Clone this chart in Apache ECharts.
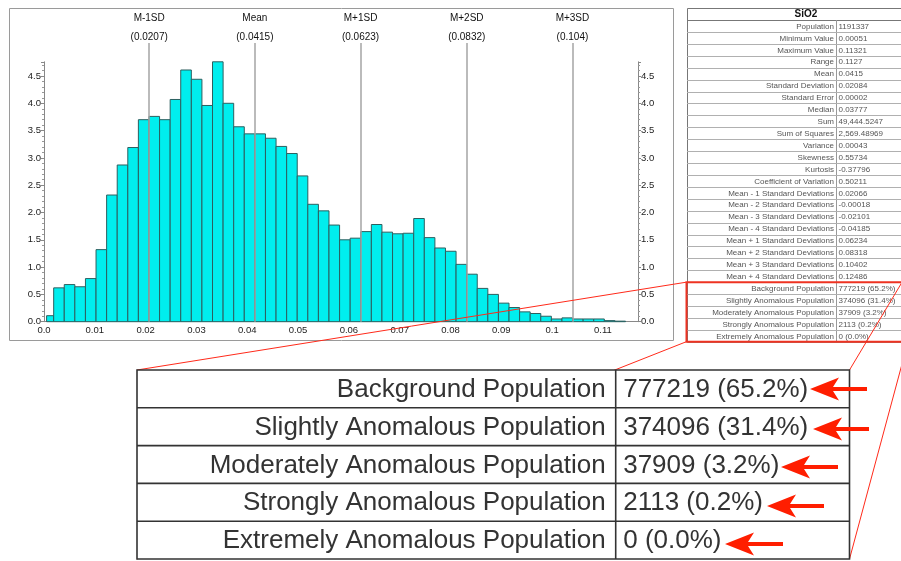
<!DOCTYPE html>
<html><head><meta charset="utf-8">
<script src="https://cdn.jsdelivr.net/npm/echarts@6/dist/echarts.min.js"></script>
<style>html,body{margin:0;padding:0;background:#fff}#c{width:901px;height:561px}</style>
</head><body><div id="c"></div>
<script>
// ---------- data ----------
const binHeights = [0.11,0.62,0.68,0.64,0.79,1.32,2.32,2.87,3.19,3.70,
  3.76,3.70,4.07,4.61,4.44,3.96,4.76,4.00,3.57,3.44,
  3.44,3.36,3.21,3.08,2.67,2.15,2.03,1.77,1.50,1.53,
  1.65,1.78,1.64,1.61,1.62,1.89,1.54,1.35,1.29,1.05,
  0.87,0.61,0.50,0.34,0.26,0.18,0.15,0.10,0.05,0.07,
  0.05,0.05,0.05,0.02,0.01];
const dataMin = 0.00051;
const binStart = -0.00018;   // Mean - 2 Standard Deviations
const binWidth = 0.002084;   // Standard Deviation / 10
const sdNames = ['M-1SD','Mean','M+1SD','M+2SD','M+3SD'];
const sdValues = [0.0207,0.0415,0.0623,0.0832,0.104];
const tableTitle = 'SiO2';
const statLabels = ['Population','Minimum Value','Maximum Value','Range','Mean','Standard Deviation',
  'Standard Error','Median','Sum','Sum of Squares','Variance','Skewness','Kurtosis',
  'Coefficient of Variation','Mean - 1 Standard Deviations','Mean - 2 Standard Deviations',
  'Mean - 3 Standard Deviations','Mean - 4 Standard Deviations','Mean + 1 Standard Deviations',
  'Mean + 2 Standard Deviations','Mean + 3 Standard Deviations','Mean + 4 Standard Deviations'];
const statValues = ['1191337','0.00051','0.11321','0.1127','0.0415','0.02084','0.00002','0.03777',
  '49,444.5247','2,569.48969','0.00043','0.55734','-0.37796','0.50211','0.02066','-0.00018',
  '-0.02101','-0.04185','0.06234','0.08318','0.10402','0.12486'];
const popLabels = ['Background Population','Slightly Anomalous Population','Moderately Anomalous Population',
  'Strongly Anomalous Population','Extremely Anomalous Population'];
const popValues = ['777219 (65.2%)','374096 (31.4%)','37909 (3.2%)','2113 (0.2%)','0 (0.0%)'];

// ---------- build ----------
const bins = binHeights.map((h, i) => [Math.max(binStart + i*binWidth, dataMin), binStart + (i+1)*binWidth, h]);
const X_MAX = 0.1169, Y_MAX = 4.76;
const FONT = '"Liberation Sans", Arial, sans-serif';

function T(x, y, text, font, fill, align, valign, z) {
  return {type:'text', z: z, silent:true, style:{x:x, y:y, text:text, font:font, fill:fill,
    align:align, verticalAlign:valign, textAlign:align, textVerticalAlign:valign}};
}
function L(x1,y1,x2,y2,color,w,z){
  return {type:'line', z:z, silent:true, shape:{x1:x1,y1:y1,x2:x2,y2:y2}, style:{stroke:color, lineWidth:w}};
}
const els = [];
// histogram panel frame
els.push({type:'rect', z:0, silent:true, shape:{x:9.5,y:8.5,width:664,height:332}, style:{fill:'none', stroke:'#9a9a9a', lineWidth:1}});

// top-right statistics table
const tx0 = 687, tdiv = 836, tx1 = 925, tTop = 8, hdrH = 12, rowH = 11.92;
const allLabels = statLabels.concat(popLabels), allValues = statValues.concat(popValues);
const tBottom = tTop + hdrH + allLabels.length*rowH;
els.push({type:'rect', z:10, silent:true, shape:{x:tx0+0.5,y:tTop+0.5,width:tx1-tx0,height:tBottom-tTop}, style:{fill:'#fff', stroke:'#777', lineWidth:1}});
els.push(T((tx0+tx1)/2, tTop+hdrH/2+0.5, tableTitle, 'bold 10px '+FONT, '#111', 'center', 'middle', 11));
els.push(L(tx0, tTop+hdrH+0.5, tx1, tTop+hdrH+0.5, '#777', 1, 11));
els.push(L(tdiv+0.5, tTop+hdrH, tdiv+0.5, tBottom, '#999', 1, 11));
allLabels.forEach((lab, i) => {
  const y = tTop + hdrH + i*rowH;
  if (i > 0) els.push(L(tx0, Math.round(y)+0.5, tx1, Math.round(y)+0.5, '#b0b0b0', 1, 11));
  els.push(T(tdiv-2, y+rowH/2+0.5, lab, '8px '+FONT, '#555', 'right', 'middle', 12));
  els.push(T(tdiv+2.5, y+rowH/2+0.5, allValues[i], '8px '+FONT, '#555', 'left', 'middle', 12));
});
// red highlight box
const rbTop = tTop + hdrH + statLabels.length*rowH;
els.push({type:'rect', z:20, silent:true, shape:{x:686.5,y:rbTop,width:222,height:tBottom-rbTop}, style:{fill:'none', stroke:'#ee3322', lineWidth:2}});

// callout lines
const bx0 = 137, bx1 = 849.5, bTop = 370, bRowH = 37.8, bDiv = 615.7;
const bBottom = bTop + popLabels.length*bRowH;
els.push(L(686, rbTop, bx0, bTop, '#ff2a1a', 1, 50));
els.push(L(686, tBottom, bx0, bBottom, '#ff2a1a', 1, 50));
els.push(L(902, rbTop, bx1, bTop, '#ff2a1a', 1, 50));
els.push(L(908, tBottom, bx1, bBottom, '#ff2a1a', 1, 50));

// enlarged table
els.push({type:'rect', z:60, silent:true, shape:{x:bx0,y:bTop,width:bx1-bx0,height:bBottom-bTop}, style:{fill:'#fff', stroke:'#333', lineWidth:1.6}});
els.push(L(bDiv, bTop, bDiv, bBottom, '#333', 1.6, 61));
popLabels.forEach((lab, i) => {
  const y = bTop + i*bRowH;
  if (i > 0) els.push(L(bx0, y, bx1, y, '#333', 1.6, 61));
  els.push(T(bDiv-10, y+bRowH/2+1, lab, '26px '+FONT, '#333', 'right', 'middle', 62));
  els.push(T(bDiv+7.5, y+bRowH/2+1, popValues[i], '26px '+FONT, '#333', 'left', 'middle', 62));
});
// red arrows
[[810,389,867],[813,429,869],[781,467,838],[767,506,824],[725,544,783]].forEach(a => {
  const [tx, ty, ex] = a;
  els.push({type:'polygon', z:63, silent:true, shape:{points:[[tx,ty],[tx+29,ty-11.5],[tx+23,ty-2],[ex,ty-2],[ex,ty+2],[tx+23,ty+2],[tx+29,ty+11.5]]},
    style:{fill:'#ff1e00', stroke:'none'}});
});

const axisLbl = {color:'#222', fontSize:9.5, fontFamily:FONT};
const option = {
  animation: false,
  backgroundColor: '#fff',
  grid: [
    {left:44, right:263, top:61.8, bottom:239.3},
    {left:44, right:263, top:43, bottom:239.3}
  ],
  xAxis: [
    {type:'value', gridIndex:0, min:0, max:X_MAX, interval:0.01,
      axisLine:{show:true, lineStyle:{color:'#888'}}, axisTick:{show:false}, splitLine:{show:false},
      axisLabel:Object.assign({margin:4, showMaxLabel:false, formatter:v => v === 0 ? '0.0' : String(+v.toFixed(3))}, axisLbl)},
    {type:'value', gridIndex:1, min:0, max:X_MAX, show:false}
  ],
  yAxis: [
    {type:'value', gridIndex:0, min:0, max:Y_MAX, interval:0.5, position:'left',
      axisLine:{show:true, lineStyle:{color:'#888'}}, axisTick:{show:true, length:3, lineStyle:{color:'#888'}},
      minorTick:{show:true, splitNumber:5, length:2, lineStyle:{color:'#999'}}, splitLine:{show:false},
      axisLabel:Object.assign({margin:3, showMaxLabel:false, formatter:v => v.toFixed(1)}, axisLbl)},
    {type:'value', gridIndex:0, min:0, max:Y_MAX, interval:0.5, position:'right',
      axisLine:{show:true, lineStyle:{color:'#888'}}, axisTick:{show:true, length:3, lineStyle:{color:'#888'}},
      minorTick:{show:true, splitNumber:5, length:2, lineStyle:{color:'#999'}}, splitLine:{show:false},
      axisLabel:Object.assign({margin:3, showMaxLabel:false, formatter:v => v.toFixed(1)}, axisLbl)},
    {type:'value', gridIndex:1, min:0, max:1, show:false}
  ],
  series: [
    {type:'line', xAxisIndex:1, yAxisIndex:2, data:[], z:1, silent:true,
      markLine:{silent:true, symbol:['none','none'], animation:false, precision:5,
        lineStyle:{color:'#a5a5a5', width:1.5, type:'solid'},
        label:{show:true, position:'end', distance:0, color:'#111', fontFamily:FONT,
          formatter: p => '{a|' + sdNames[p.dataIndex] + '}\n{b|(' + sdValues[p.dataIndex] + ')}',
          rich:{a:{fontSize:10, lineHeight:26, color:'#111', fontFamily:FONT}, b:{fontSize:10, lineHeight:12, color:'#111', fontFamily:FONT}}},
        emphasis:{disabled:true},
        data: sdValues.map((v, i) => ({name: sdNames[i], xAxis: v}))}},
    {type:'custom', xAxisIndex:0, yAxisIndex:0, z:3, silent:true, data: bins,
      renderItem: (params, api) => {
        const p0 = api.coord([api.value(0), 0]);
        const p1 = api.coord([api.value(1), api.value(2)]);
        return {type:'rect', shape:{x:p0[0], y:p1[1], width:p1[0]-p0[0], height:p0[1]-p1[1]},
          style:{fill:'#00eeee', stroke:'#2d5f5f', lineWidth:1}};
      }}
  ],
  graphic: {elements: els}
};
const chart = echarts.init(document.getElementById('c'), null, {renderer:'canvas'});
chart.setOption(option);
</script></body></html>
